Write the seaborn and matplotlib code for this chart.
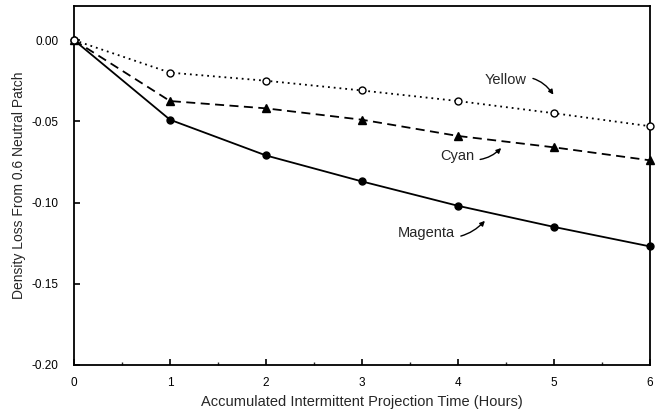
import matplotlib
matplotlib.use("Agg")
import matplotlib.pyplot as plt
import seaborn as sns
import pandas as pd

hours = [0, 1, 2, 3, 4, 5, 6]
yellow = [0.0, -0.020, -0.025, -0.031, -0.0375, -0.045, -0.053]
cyan = [0.0, -0.0375, -0.042, -0.049, -0.059, -0.066, -0.074]
magenta = [0.0, -0.049, -0.071, -0.087, -0.102, -0.115, -0.127]
series_names = ["Yellow", "Cyan", "Magenta"]
x_ticks = [0, 1, 2, 3, 4, 5, 6]
y_ticks = [0.00, -0.05, -0.10, -0.15, -0.20]

sns.set_theme(style="white")
plt.rcParams['font.family'] = ['Liberation Sans', 'DejaVu Sans']

df = pd.DataFrame({
    "hours": hours * 3,
    "loss": yellow + cyan + magenta,
    "dye": [n for n in series_names for _ in hours],
})

fig = plt.figure(figsize=(6.59, 4.15), dpi=100)
ax = fig.add_axes([0.1123, 0.1205, 0.874, 0.865])

styles = {
    "Yellow": dict(linestyle=(0, (1, 2.2)), marker="o", markerfacecolor="white", markersize=5, zorder=4),
    "Cyan": dict(linestyle=(0, (5, 3)), marker="^", markerfacecolor="black", markersize=5.5, zorder=3),
    "Magenta": dict(linestyle="-", marker="o", markerfacecolor="black", markersize=5, zorder=2),
}
for name in series_names:
    sub = df[df["dye"] == name]
    sns.lineplot(data=sub, x="hours", y="loss", ax=ax, color="black", linewidth=1.3,
                 markeredgecolor="black", markeredgewidth=1.0, clip_on=False, **styles[name])

ax.set_xlim(0, 6)
ax.set_ylim(-0.20, 0.021)
ax.set_xticks(x_ticks)
ax.set_xticks([0.5, 1.5, 2.5, 3.5, 4.5, 5.5], minor=True)
ax.set_yticks(y_ticks)
ax.set_yticklabels([f"{v:.2f}" for v in y_ticks])
ax.tick_params(axis="both", which="major", direction="in", length=4, width=1.2,
               labelsize=8.5, colors="black", left=True, bottom=True)
ax.tick_params(axis="x", which="minor", direction="in", length=2.5, width=1.0, bottom=True)
ax.tick_params(axis="x", which="major", pad=9)
ax.tick_params(axis="y", which="major", pad=11)
for s in ax.spines.values():
    s.set_color("black")
    s.set_linewidth(1.3)
ax.set_xlabel("Accumulated Intermittent Projection Time (Hours)", fontsize=10.5, labelpad=4)
ax.set_ylabel("Density Loss From 0.6 Neutral Patch", fontsize=10, labelpad=4)

arrow = dict(arrowstyle="-|>", color="black", lw=1.0, mutation_scale=7)
ax.annotate("Yellow", xy=(5.01, -0.035), xytext=(4.5, -0.0246),
            fontsize=10.5, ha="center", va="center",
            arrowprops=dict(connectionstyle="arc3,rad=-0.4", **arrow))
ax.annotate("Cyan", xy=(4.47, -0.0652), xytext=(3.99, -0.0714),
            fontsize=10.5, ha="center", va="center",
            arrowprops=dict(connectionstyle="arc3,rad=0.35", **arrow))
ax.annotate("Magenta", xy=(4.30, -0.110), xytext=(3.67, -0.1188),
            fontsize=10.5, ha="center", va="center",
            arrowprops=dict(connectionstyle="arc3,rad=0.35", **arrow))

fig.savefig("out.png", dpi=100)
